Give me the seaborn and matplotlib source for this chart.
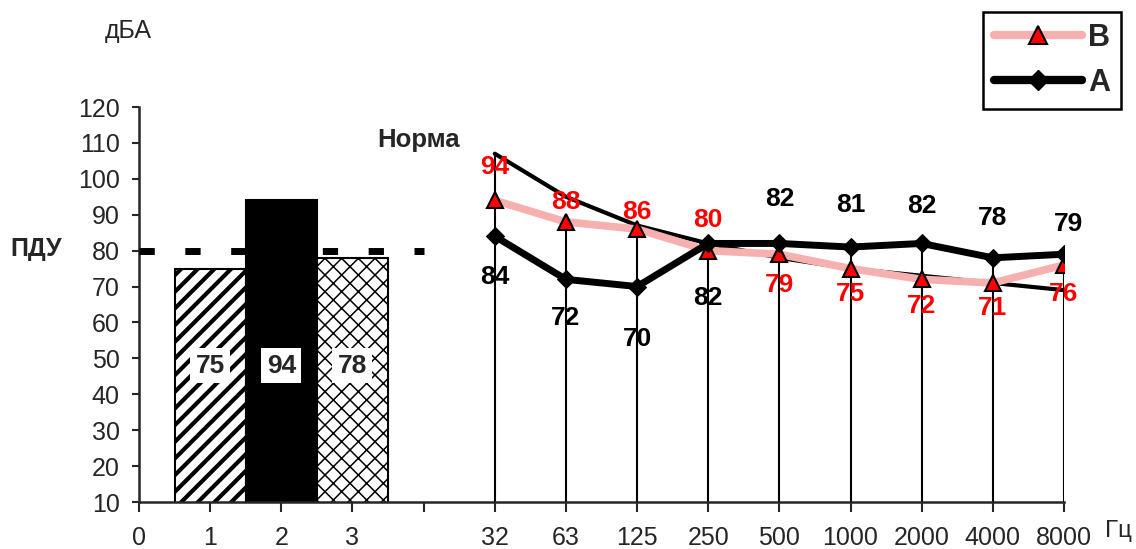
import numpy as np
import matplotlib
matplotlib.use("Agg")
import matplotlib.pyplot as plt
from matplotlib.lines import Line2D
import seaborn as sns

# ---- data ----
bar_pos = [1, 2, 3]
bar_vals = [75, 94, 78]

freq_labels = ["32", "63", "125", "250", "500", "1000", "2000", "4000", "8000"]
freq_pos = [5, 6, 7, 8, 9, 10, 11, 12, 13]
norm_vals = [107, 95, 87, 82, 78, 75, 73, 71, 69]
b_vals = [94, 88, 86, 80, 79, 75, 72, 71, 76]
a_vals = [84, 72, 70, 82, 82, 81, 82, 78, 79]

tick_labels = ["0", "1", "2", "3", ""] + freq_labels
pdu_level = 80

# vertical label offsets (points) for the value annotations
b_label_dy = [24, 14, 12, 22, -22, -18, -19, -18, -21]
a_label_dy = [-29, -28, -38, -39, 32, 30, 27, 29, 22]

sns.set_style("ticks")
plt.rcParams["font.family"] = ["Liberation Sans", "DejaVu Sans"]

fig = plt.figure(figsize=(11.36, 5.49), dpi=100)
ax = fig.add_axes([139 / 1136, 1 - 502 / 549, 925 / 1136, 395 / 549])

# ---- bars ----
sns.barplot(x=bar_pos, y=bar_vals, native_scale=True, width=1.0,
            color="white", edgecolor="black", linewidth=1.5,
            errorbar=None, ax=ax, zorder=2)
hatches = ["//", None, "xx"]
fills = ["white", "black", "white"]
hatch_lws = [3.0, 1.0, 1.1]
for patch, h, fc, hlw in zip(ax.patches, hatches, fills, hatch_lws):
    patch.set_facecolor(fc)
    if h:
        patch.set_hatch(h)
        if hasattr(patch, "set_hatch_linewidth"):
            patch.set_hatch_linewidth(hlw)

for x, v in zip(bar_pos, bar_vals):
    ax.text(x, 48, str(v), ha="center", va="center", fontsize=19,
            fontweight="bold", zorder=6,
            bbox=dict(boxstyle="square,pad=0.2", fc="white", ec="none"))

# ---- ПДУ dashed level ----
ax.plot([0, 4], [pdu_level, pdu_level], color="black", lw=5,
        dashes=(2.2, 4.4), solid_capstyle="butt", dash_capstyle="butt",
        zorder=3)

# ---- drop lines ----
tops = np.maximum(a_vals, b_vals).astype(float)
tops[0] = norm_vals[0]
ax.vlines(freq_pos, 10, tops, color="black", lw=1.5, zorder=2)

# ---- norm, B and A series ----
sns.lineplot(x=freq_pos, y=norm_vals, color="black", lw=3, ax=ax,
             legend=False, zorder=3)
pink = "#f7b0b0"
sns.lineplot(x=freq_pos, y=b_vals, color=pink, lw=5.5, marker="^",
             markersize=12, markerfacecolor="red", markeredgecolor="black",
             markeredgewidth=1.5, ax=ax, legend=False, zorder=4)
sns.lineplot(x=freq_pos, y=a_vals, color="black", lw=5, marker="D",
             markersize=9, markerfacecolor="black", markeredgecolor="black",
             ax=ax, legend=False, zorder=5)

for x, v, dy in zip(freq_pos, b_vals, b_label_dy):
    ax.annotate(str(v), (x, v), xytext=(0, dy), textcoords="offset points",
                ha="center", va="center", fontsize=19, fontweight="bold",
                color="red", zorder=7)
for i, (x, v, dy) in enumerate(zip(freq_pos, a_vals, a_label_dy)):
    dx = 3 if i == len(a_vals) - 1 else 0
    ax.annotate(str(v), (x, v), xytext=(dx, dy), textcoords="offset points",
                ha="center", va="center", fontsize=19, fontweight="bold",
                color="black", zorder=7)

# ---- axes ----
ax.set_xlim(0, 13)
ax.set_ylim(10, 120)
ax.set_xticks(range(len(tick_labels)))
ax.set_xticklabels(tick_labels)
ax.set_yticks(range(10, 121, 10))
ax.tick_params(axis="y", direction="out", length=5, width=1.5,
               labelsize=18, pad=9)
ax.tick_params(axis="x", direction="out", length=7, width=1.5,
               labelsize=18, pad=10)
for side in ("top", "right"):
    ax.spines[side].set_visible(False)
for side in ("left", "bottom"):
    ax.spines[side].set_linewidth(1.8)
ax.set_xlabel("")
ax.set_ylabel("")

# ---- annotations ----
fig.text(128 / 1136, 1 - 31 / 549, "дБА", fontsize=18, ha="center", va="center")
fig.text(36 / 1136, 1 - 249 / 549, "ПДУ", fontsize=18, fontweight="bold",
         ha="center", va="center")
fig.text(419 / 1136, 1 - 140 / 549, "Норма", fontsize=18.5, fontweight="bold",
         ha="center", va="center")
fig.text(1118 / 1136, 1 - 531 / 549, "Гц", fontsize=17.5, ha="center", va="center")

# ---- legend ----
handles = [
    Line2D([], [], color=pink, lw=6, marker="^", markersize=13,
           markerfacecolor="red", markeredgecolor="black", markeredgewidth=1.5),
    Line2D([], [], color="black", lw=6, marker="D", markersize=10,
           markerfacecolor="black"),
]
leg = fig.legend(handles, ["B", "A"], loc="upper right",
                 bbox_to_anchor=(1121 / 1136, 1 - 12 / 549),
                 bbox_transform=fig.transFigure, borderaxespad=0,
                 prop={"size": 22, "weight": "bold"},
                 frameon=True, fancybox=False, framealpha=1,
                 edgecolor="black", handlelength=2.9, handletextpad=0.2,
                 labelspacing=0.5, borderpad=0.35)
leg.get_frame().set_linewidth(1.8)

fig.savefig("out.png", dpi=100)
